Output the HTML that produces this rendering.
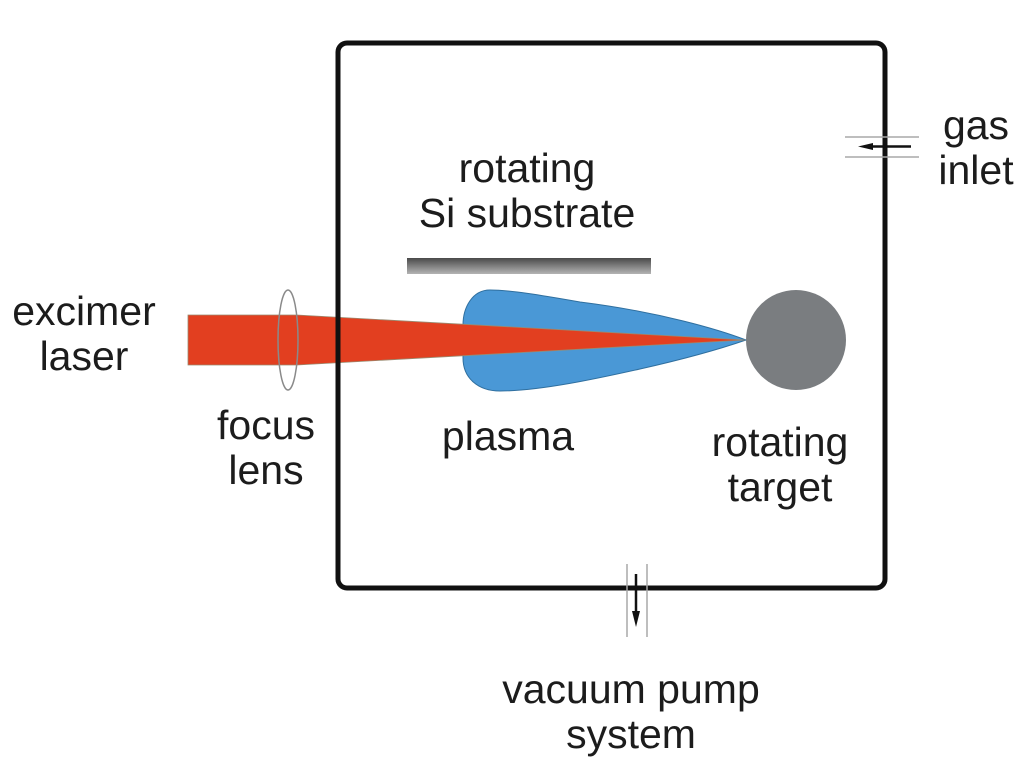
<!DOCTYPE html>
<html>
<head>
<meta charset="utf-8">
<style>
html,body{margin:0;padding:0;background:#fff}
svg{display:block}
text{font-family:"Liberation Sans",sans-serif;font-size:41px;fill:#1c1c1c;text-anchor:middle}
</style>
</head>
<body>
<svg width="1024" height="768" viewBox="0 0 1024 768" xmlns="http://www.w3.org/2000/svg">
<defs>
<linearGradient id="g" x1="0" y1="0" x2="0" y2="1">
<stop offset="0" stop-color="#4a4a4a"/>
<stop offset="1" stop-color="#b4b4b4"/>
</linearGradient>
</defs>
<rect x="407" y="258" width="244" height="16" fill="url(#g)"/>
<path d="M746 340 C720 330 660 312 580 302 C540 295 510 290 490 290 C472 290 463 308 463 325 L463 358 C463 378 478 391 500 391 C540 391 600 378 640 369 C680 360 720 349 746 340 Z" fill="#4a98d6" stroke="#2f6f9f" stroke-width="1"/>
<path d="M188 315 L297 315 L745 340 L297 365 L188 365 Z" fill="#e23f20" stroke="#9a8a70" stroke-width="0.8"/>
<circle cx="796" cy="340" r="50" fill="#7a7d80"/>
<ellipse cx="288" cy="340" rx="10" ry="50" fill="none" stroke="#8a8a8a" stroke-width="1.5"/>
<rect x="338" y="43" width="547" height="545" rx="9" ry="9" fill="none" stroke="#111" stroke-width="5"/>

<g stroke="#a8a8a8" stroke-width="1.5" fill="none">
<path d="M845 137 H919"/><path d="M845 157 H919"/>
<path d="M627 564 V637"/><path d="M647 564 V637"/>
</g>
<path d="M870 146.500 H911" stroke="#111" stroke-width="2.500"/>
<path d="M858 146.500 L873 143 V150 Z" fill="#111"/>
<path d="M636 574 V614" stroke="#111" stroke-width="2.500"/>
<path d="M636 627 L632 611 H640 Z" fill="#111"/>

<text x="527" y="182">rotating</text>
<text x="527" y="227">Si substrate</text>
<text x="84" y="325">excimer</text>
<text x="84" y="370">laser</text>
<text x="266" y="439">focus</text>
<text x="266" y="484">lens</text>
<text x="508" y="450">plasma</text>
<text x="780" y="456">rotating</text>
<text x="780" y="501">target</text>
<text x="976" y="139">gas</text>
<text x="976" y="184">inlet</text>
<text x="631" y="703">vacuum pump</text>
<text x="631" y="748">system</text>
</svg>
</body>
</html>
